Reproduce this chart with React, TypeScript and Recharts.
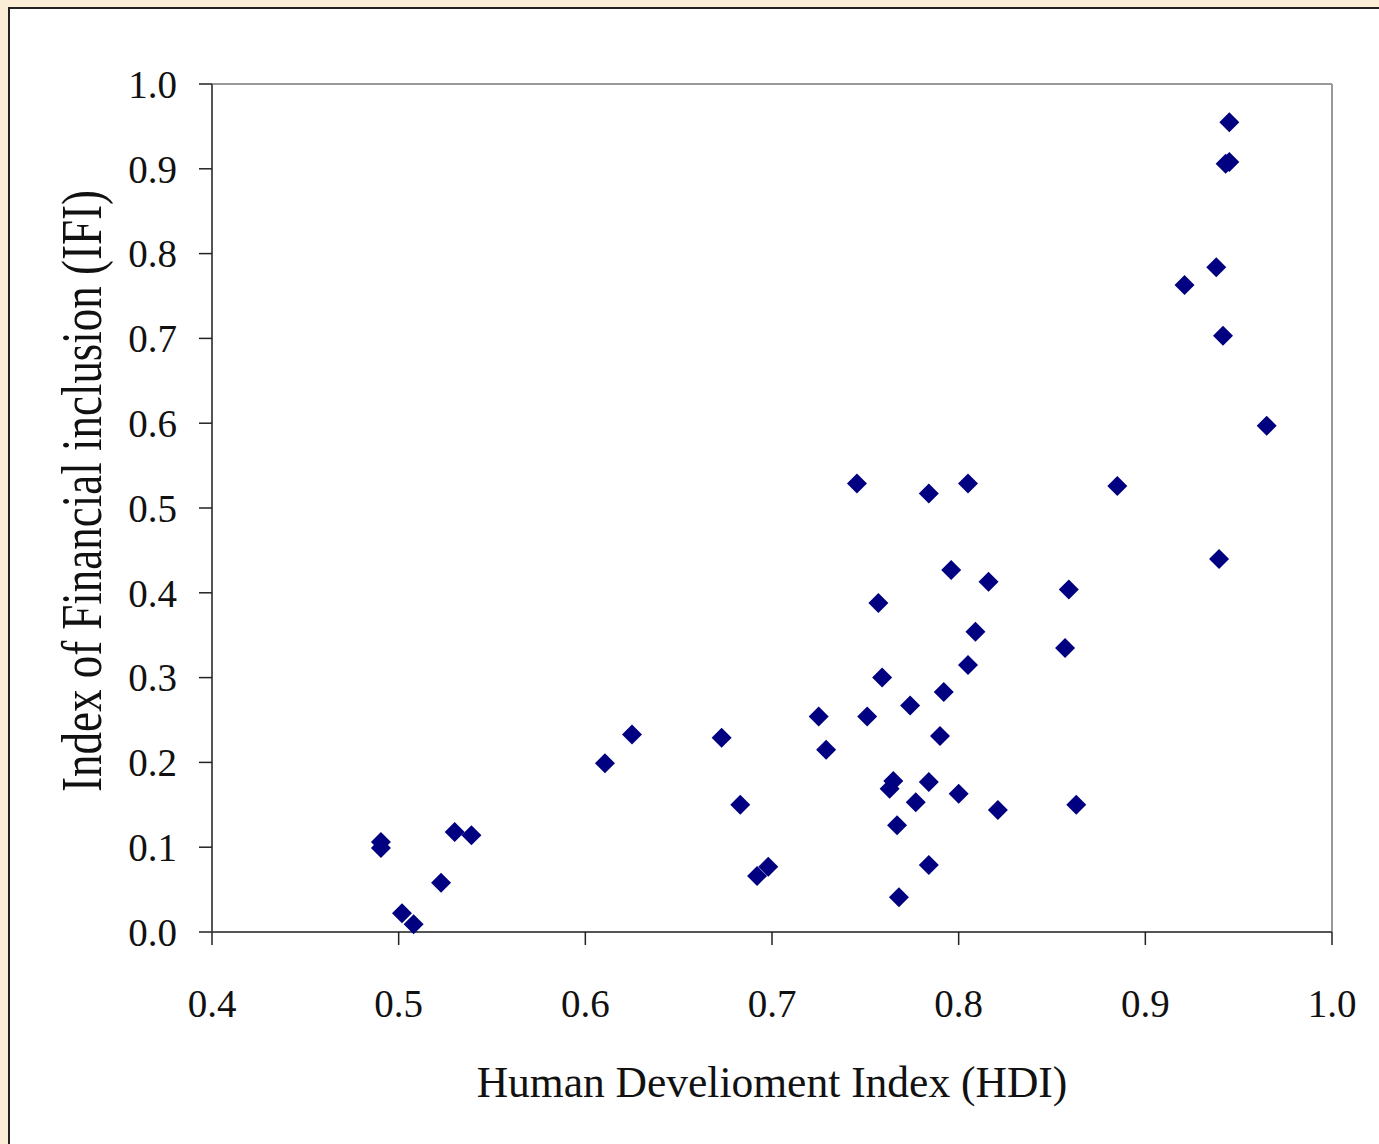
import { ScatterChart, Scatter, XAxis, YAxis, ReferenceLine } from 'recharts';

// Human Development Index (x) and Index of Financial Inclusion (y), one entry per country
const hdi = [
  0.4905, 0.4905, 0.5018, 0.508, 0.5227, 0.530, 0.539, 0.6105, 0.625, 0.673,
  0.683, 0.692, 0.698, 0.725, 0.729, 0.7455, 0.751, 0.757, 0.759, 0.763,
  0.765, 0.767, 0.768, 0.774, 0.777, 0.784, 0.784, 0.784, 0.790, 0.792,
  0.796, 0.800, 0.805, 0.805, 0.809, 0.816, 0.821, 0.857, 0.859, 0.863,
  0.885, 0.921, 0.938, 0.9395, 0.9416, 0.943, 0.945, 0.945, 0.965,
];
const ifi = [
  0.106, 0.099, 0.022, 0.009, 0.058, 0.118, 0.114, 0.199, 0.233, 0.229,
  0.150, 0.066, 0.077, 0.254, 0.215, 0.529, 0.254, 0.388, 0.300, 0.169,
  0.178, 0.126, 0.041, 0.267, 0.153, 0.517, 0.177, 0.079, 0.231, 0.283,
  0.427, 0.163, 0.529, 0.315, 0.354, 0.413, 0.144, 0.335, 0.404, 0.150,
  0.526, 0.763, 0.784, 0.440, 0.703, 0.906, 0.908, 0.955, 0.597,
];

const xTicks = [0.4, 0.5, 0.6, 0.7, 0.8, 0.9, 1.0];
const yTicks = [0, 0.1, 0.2, 0.3, 0.4, 0.5, 0.6, 0.7, 0.8, 0.9, 1.0];

const data = hdi.map((x, i) => ({ x, y: ifi[i] }));

const FONT = '"Liberation Serif", "DejaVu Serif", serif';

function Diamond(props: any) {
  const { cx, cy } = props;
  const r = 10;
  return (
    <polygon
      points={`${cx},${cy - r} ${cx + r},${cy} ${cx},${cy + r} ${cx - r},${cy}`}
      fill="#000080"
    />
  );
}

function YLabel(props: any) {
  const vb = props.viewBox;
  const x = vb.x - 11;
  const y = vb.y + vb.height / 2 - 17;
  return (
    <text
      x={x}
      y={y}
      transform={`rotate(-90, ${x}, ${y})`}
      textAnchor="middle"
      fontFamily={FONT}
      fontSize={56}
      fill="#111"
      textLength={602}
      lengthAdjust="spacingAndGlyphs"
    >
      Index of Financial inclusion (IFI)
    </text>
  );
}

export default function App() {
  return (
    <div style={{ position: 'relative', width: 1379, height: 1144, background: '#fbeed6', overflow: 'hidden' }}>
      <style>{`body{margin:0}`}</style>
      <div
        style={{
          position: 'absolute',
          left: 8,
          top: 7,
          right: 0,
          bottom: 0,
          background: '#fff',
          borderLeft: '2px solid #222',
          borderTop: '2px solid #222',
        }}
      />
      <div style={{ position: 'absolute', left: 0, top: 0 }}>
        <ScatterChart width={1379} height={1144} margin={{ top: 84, right: 47, bottom: 42, left: 112 }}>
          <XAxis
            type="number"
            dataKey="x"
            domain={[0.4, 1]}
            ticks={xTicks}
            tickFormatter={(v: number) => v.toFixed(1)}
            height={170}
            tickSize={13}
            tickMargin={44}
            axisLine={{ stroke: '#555', strokeWidth: 2 }}
            tickLine={{ stroke: '#222', strokeWidth: 1.5 }}
            tick={{ fontSize: 39, fill: '#111', fontFamily: FONT }}
            label={{
              value: 'Human Develioment Index (HDI)',
              position: 'insideBottom',
              offset: 5,
              fontSize: 43.5,
              fill: '#111',
              fontFamily: FONT,
            }}
          />
          <YAxis
            type="number"
            dataKey="y"
            domain={[0, 1]}
            ticks={yTicks}
            tickFormatter={(v: number) => v.toFixed(1)}
            width={100}
            tickSize={13}
            tickMargin={22}
            axisLine={{ stroke: '#555', strokeWidth: 2 }}
            tickLine={{ stroke: '#222', strokeWidth: 1.5 }}
            tick={{ fontSize: 39, fill: '#111', fontFamily: FONT }}
            label={<YLabel />}
          />
          <ReferenceLine y={1} stroke="#999" strokeWidth={2} />
          <ReferenceLine x={1} stroke="#999" strokeWidth={2} />
          <Scatter data={data} shape={<Diamond />} isAnimationActive={false} />
        </ScatterChart>
      </div>
    </div>
  );
}
